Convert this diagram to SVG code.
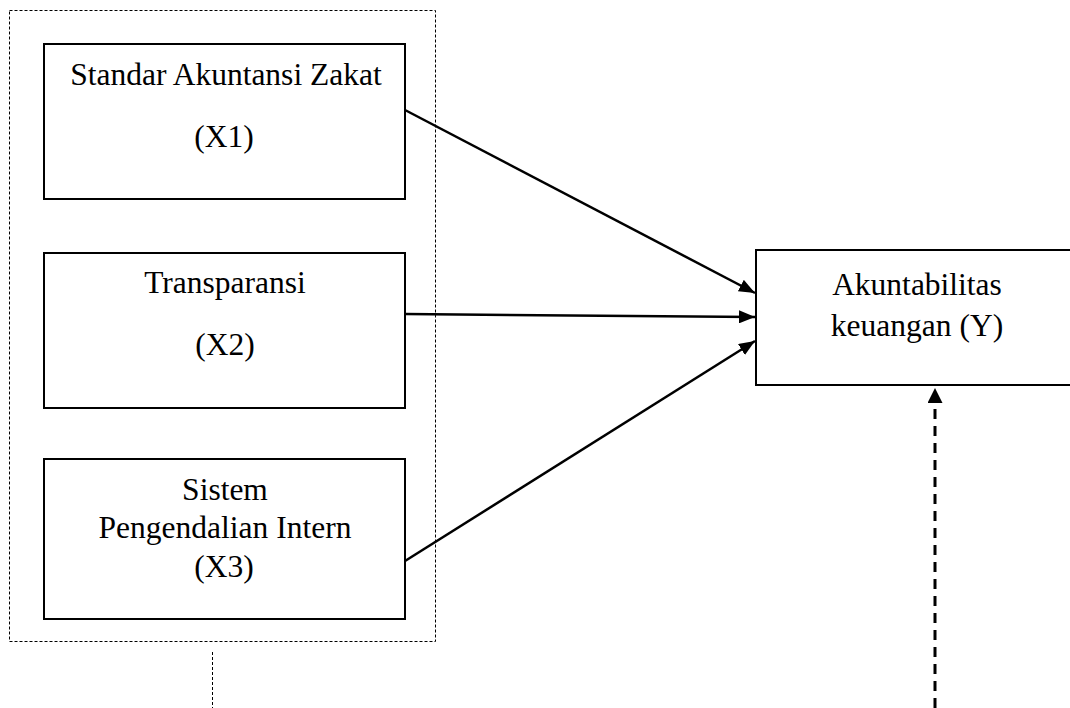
<svg xmlns="http://www.w3.org/2000/svg" width="1070" height="708" viewBox="0 0 1070 708">
<style>
.box{fill:#fff;stroke:#000;stroke-width:2}
.t{font-family:"Liberation Serif","Times New Roman",serif;font-size:31.5px;fill:#000;text-anchor:middle}
.arr{stroke:#000;stroke-width:2.5;fill:none}
</style>
<defs>
<marker id="ah" viewBox="0 0 16 13" refX="16" refY="6.5" markerWidth="16" markerHeight="13" markerUnits="userSpaceOnUse" orient="auto">
<path d="M0,0 L16,6.5 L0,13 Z" fill="#000"/>
</marker>
<marker id="ahd" viewBox="0 0 15 15" refX="15" refY="7.5" markerWidth="15" markerHeight="15" markerUnits="userSpaceOnUse" orient="auto">
<path d="M0,0 L15,7.5 L0,15 Z" fill="#000"/>
</marker>
</defs>
<rect width="1070" height="708" fill="#fff"/>
<g id="group-x">
<rect x="9.5" y="10.5" width="426" height="631" fill="none" stroke="#000" stroke-width="1" stroke-dasharray="3,2"/>
<line x1="212.5" y1="652" x2="212.5" y2="708" stroke="#000" stroke-width="1" stroke-dasharray="3,2"/>
</g>
<g id="x1">
<rect class="box" x="44" y="44" width="361" height="155"/>
<text class="t" x="226" y="85">Standar Akuntansi Zakat</text>
<text class="t" x="224" y="147">(X1)</text>
</g>
<g id="x2">
<rect class="box" x="44" y="253" width="361" height="155"/>
<text class="t" x="225" y="293">Transparansi</text>
<text class="t" x="225" y="355">(X2)</text>
</g>
<g id="x3">
<rect class="box" x="44" y="459" width="361" height="160"/>
<text class="t" x="225" y="500">Sistem</text>
<text class="t" x="225" y="538">Pengendalian Intern</text>
<text class="t" x="224" y="577">(X3)</text>
</g>
<g id="y">
<rect class="box" x="756" y="250" width="330" height="135"/>
<text class="t" x="917" y="295">Akuntabilitas</text>
<text class="t" x="917" y="336">keuangan (Y)</text>
</g>
<g id="connectors">
<line class="arr" x1="405" y1="110" x2="755" y2="293" marker-end="url(#ah)"/>
<line class="arr" x1="405" y1="314" x2="755" y2="317" marker-end="url(#ah)"/>
<line class="arr" x1="405" y1="561" x2="755" y2="341" marker-end="url(#ah)"/>
<line x1="935" y1="708" x2="935" y2="388" stroke="#000" stroke-width="3" stroke-dasharray="10,7" marker-end="url(#ahd)"/>
</g>
</svg>
